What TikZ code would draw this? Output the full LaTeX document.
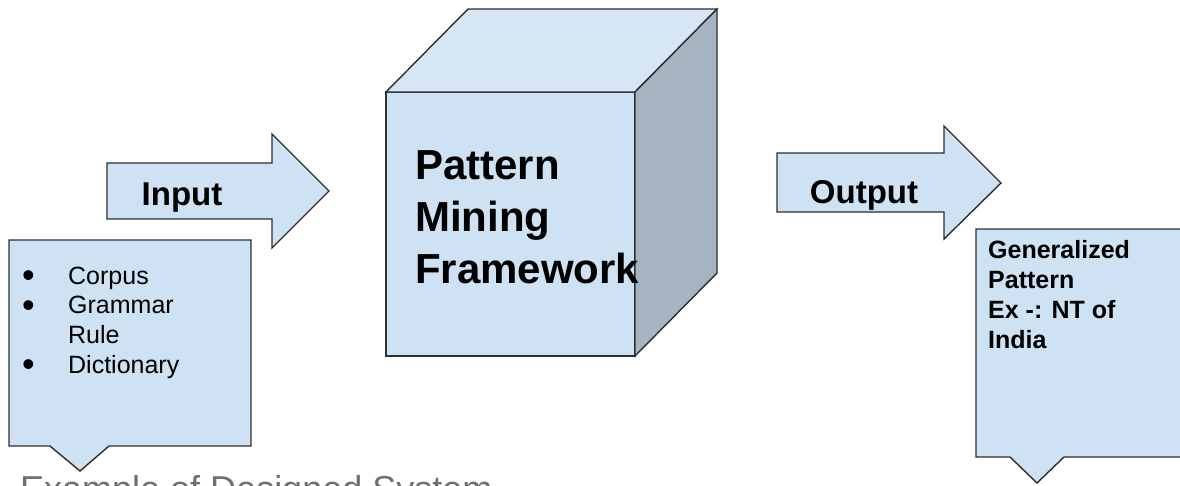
\documentclass[tikz,border=0pt]{standalone}
\usepackage{fontspec}
\setmainfont{Liberation Sans}
\usepackage{xcolor}
\usepackage{tikz}
\usetikzlibrary{positioning}

\definecolor{azulclaro}{HTML}{CFE2F3}
\definecolor{azultapa}{HTML}{D7E6F5}
\definecolor{azullado}{HTML}{A6B4C2}
\definecolor{borde}{HTML}{2E2E2E}
\definecolor{grispie}{HTML}{6F6F6F}

\newcommand{\vineta}{\smash{\raisebox{-3.5pt}{\fontsize{36}{36}\selectfont\textbullet}}}

\tikzset{
  forma/.style={fill=azulclaro, draw=borde, line width=1.4pt, line join=miter},
  titulo/.style={font=\fontsize{42}{52}\selectfont\bfseries, align=left, inner sep=0pt},
  rotulo/.style={font=\fontsize{33}{40}\selectfont\bfseries, inner sep=0pt},
  lista/.style={font=\fontsize{25}{29.7}\selectfont, inner sep=0pt},
  salida/.style={font=\fontsize{25}{30}\selectfont\bfseries, align=left, inner sep=0pt},
}

\begin{document}
\begin{tikzpicture}[x=1pt,y=-1pt]
  \clip (0,0) rectangle (1180,485);

  % Cubo
  \coordinate (fnw) at (386,92);
  \coordinate (fne) at (635,92);
  \coordinate (fse) at (635,356);
  \coordinate (fsw) at (386,356);
  \coordinate (bnw) at (468,9);
  \coordinate (bne) at (717,9);
  \coordinate (bse) at (717,273);
  \draw[forma] (fnw) rectangle (fse);
  \draw[forma, fill=azultapa] (fnw) -- (bnw) -- (bne) -- (fne) -- cycle;
  \draw[forma, fill=azullado] (fne) -- (bne) -- (bse) -- (fse) -- cycle;
  \node[titulo, anchor=north west] (marco) at (415,150) {Pattern\\Mining\\Framework};

  % Flecha de entrada
  \draw[forma] (107,163) -- (272,163) -- (272,134) -- (329,191)
    -- (272,248) -- (272,219) -- (107,219) -- cycle;
  \node[rotulo, anchor=base] (entrada) at (182,205) {Input};

  % Flecha de salida
  \draw[forma] (777,153) -- (944,153) -- (944,126) -- (1001,183)
    -- (944,239) -- (944,212) -- (777,212) -- cycle;
  \node[rotulo, anchor=base] (salida) at (864,203) {Output};

  % Cuadro de la izquierda
  \draw[forma] (9,240) -- (251,240) -- (251,446) -- (109,446)
    -- (80,471) -- (50,446) -- (9,446) -- cycle;
  \node[lista, anchor=base west] (datos) at (22,284)
    {\begin{tabular}[t]{@{}p{46pt}@{}l@{}}
      \vineta & Corpus\\
      \vineta & Grammar\\
              & Rule\\
      \vineta & Dictionary
    \end{tabular}};

  % Cuadro de la derecha
  \draw[forma] (1195,229) -- (976,229) -- (976,457) -- (1010,457)
    -- (1037,483) -- (1064,457) -- (1195,457);
  \node[salida, anchor=north west] (patron) at (988,240)
    {Generalized\\Pattern\\Ex -: NT of\\India};

  % Pie (cortado)
  \node[font=\fontsize{36}{40}\selectfont, text=grispie, inner sep=0pt, anchor=base west]
    (pie) at (20,501) {Example of Designed System};
\end{tikzpicture}
\end{document}
